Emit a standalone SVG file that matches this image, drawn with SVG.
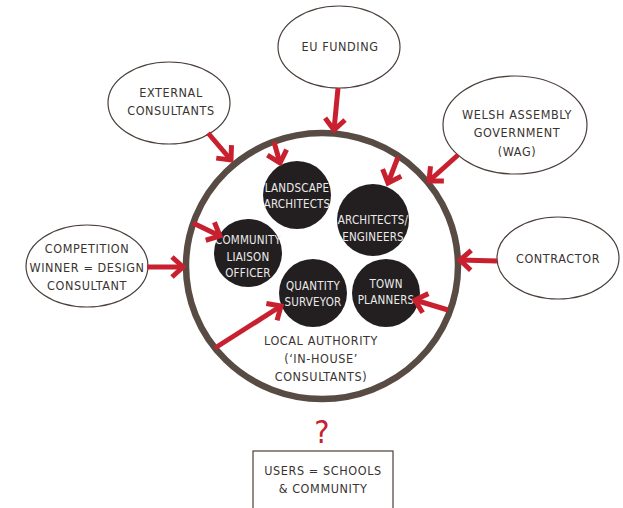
<svg xmlns="http://www.w3.org/2000/svg" width="623" height="508" viewBox="0 0 623 508">
<defs>
<style>
.t{font-family:"DejaVu Sans Condensed","DejaVu Sans",sans-serif;font-stretch:condensed;font-size:12.5px;fill:#3a3331;text-anchor:middle;letter-spacing:0.6px}
.w{font-family:"DejaVu Sans Condensed","DejaVu Sans",sans-serif;font-stretch:condensed;font-size:11.5px;fill:#ecebeb;text-anchor:middle;letter-spacing:0.2px}
.e{fill:#fff;stroke:#4a3f3a;stroke-width:1.2}
.b{fill:#231f20}
.a{stroke:#c8202f;stroke-width:5;fill:none;marker-end:url(#ah)}
</style>
<marker id="ah" markerUnits="userSpaceOnUse" viewBox="-16 -14 20 28" markerWidth="20" markerHeight="28" refX="0" refY="0" orient="auto">
<path d="M-11,-10 L0,0 L-11,10" fill="none" stroke="#c8202f" stroke-width="5" stroke-linejoin="miter"/>
</marker>
</defs>
<rect width="623" height="508" fill="#fff"/>

<g id="local-authority">
<ellipse cx="322" cy="266" rx="136" ry="133" fill="#fff" stroke="#574b44" stroke-width="6.5"/>
<text class="t" x="321" y="345">LOCAL AUTHORITY</text>
<text class="t" x="321" y="363">(‘IN-HOUSE’</text>
<text class="t" x="321" y="381">CONSULTANTS)</text>
</g>

<g id="landscape"><circle class="b" cx="297" cy="195" r="34"/><text class="w" x="297" y="192">LANDSCAPE</text><text class="w" x="297" y="208">ARCHITECTS</text></g>
<g id="architects"><circle class="b" cx="373" cy="220" r="36"/><text class="w" x="373" y="224">ARCHITECTS/</text><text class="w" x="373" y="241">ENGINEERS</text></g>
<g id="community-liaison"><circle class="b" cx="248" cy="253" r="34"/><text class="w" x="248" y="244">COMMUNITY</text><text class="w" x="248" y="261">LIAISON</text><text class="w" x="248" y="277">OFFICER</text></g>
<g id="quantity"><circle class="b" cx="313" cy="293" r="34"/><text class="w" x="313" y="290">QUANTITY</text><text class="w" x="313" y="306">SURVEYOR</text></g>
<g id="town"><circle class="b" cx="386" cy="293" r="34"/><text class="w" x="386" y="288">TOWN</text><text class="w" x="386" y="304">PLANNERS</text></g>

<g id="eu-funding"><ellipse class="e" cx="339" cy="47" rx="61" ry="41"/><text class="t" x="340" y="51">EU FUNDING</text></g>
<g id="wag"><ellipse class="e" cx="515" cy="125" rx="72" ry="49"/><text class="t" x="517" y="119">WELSH ASSEMBLY</text><text class="t" x="517" y="137">GOVERNMENT</text><text class="t" x="517" y="156">(WAG)</text></g>
<g id="contractor"><ellipse class="e" cx="558" cy="258" rx="61" ry="41"/><text class="t" x="558" y="263">CONTRACTOR</text></g>
<g id="external"><ellipse class="e" cx="169" cy="103" rx="61" ry="41"/><text class="t" x="171" y="97">EXTERNAL</text><text class="t" x="171" y="115">CONSULTANTS</text></g>
<g id="competition"><ellipse class="e" cx="87" cy="266" rx="61" ry="41"/><text class="t" x="87" y="253">COMPETITION</text><text class="t" x="87" y="272">WINNER = DESIGN</text><text class="t" x="87" y="290">CONSULTANT</text></g>
<g id="users"><rect x="253" y="451" width="140" height="62" fill="#fff" stroke="#4a3f3a" stroke-width="1.2"/><text class="t" x="323" y="475">USERS = SCHOOLS</text><text class="t" x="323" y="493">&amp; COMMUNITY</text></g>

<g id="connectors">
<line class="a" x1="338" y1="88" x2="334" y2="130"/>
<line class="a" x1="274" y1="142" x2="280" y2="163"/>
<line class="a" x1="208" y1="133" x2="231" y2="160"/>
<line class="a" x1="458" y1="155" x2="429" y2="181"/>
<line class="a" x1="398" y1="157" x2="388" y2="183"/>
<line class="a" x1="497" y1="261" x2="460" y2="260"/>
<line class="a" x1="448" y1="310" x2="415" y2="300"/>
<line class="a" x1="147" y1="267" x2="183" y2="267"/>
<line class="a" x1="193" y1="223" x2="220" y2="236"/>
<line class="a" x1="215" y1="348" x2="281" y2="306"/>
<text x="322" y="443" font-family="DejaVu Sans Condensed,DejaVu Sans,sans-serif" font-stretch="condensed" font-size="32" fill="#c8202f" text-anchor="middle">?</text>
</g>
</svg>
